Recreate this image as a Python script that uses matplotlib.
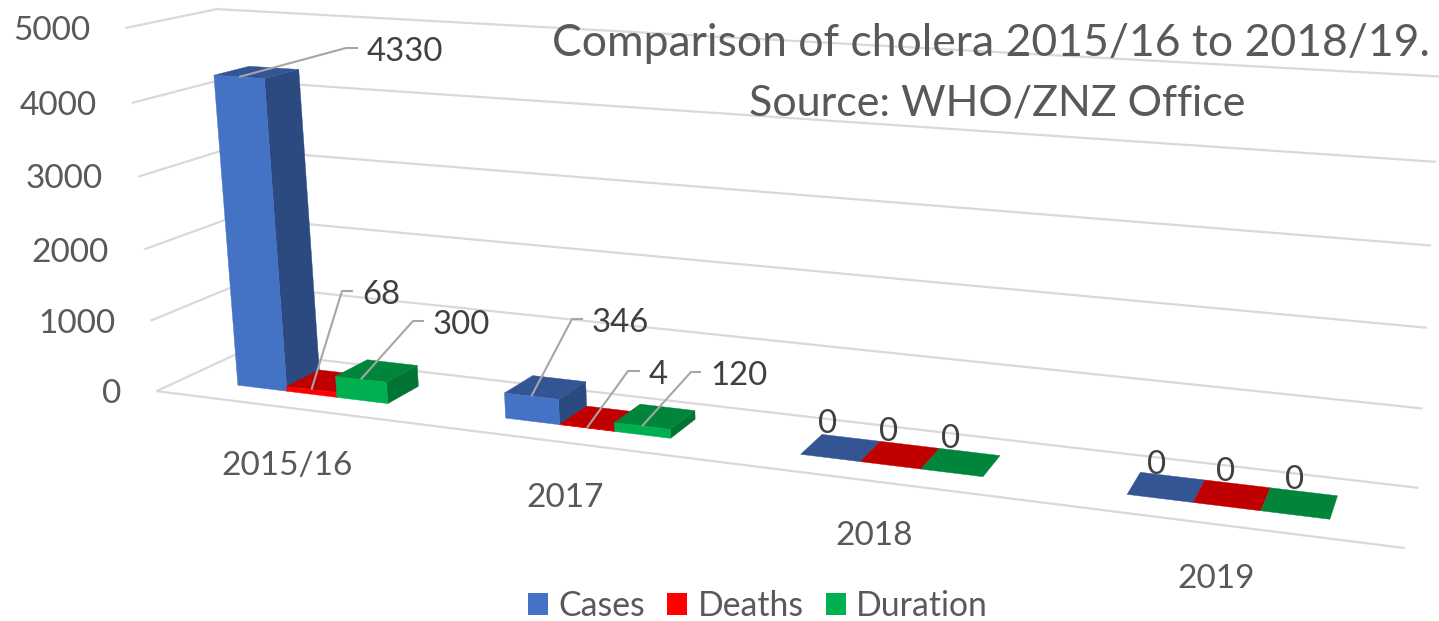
import numpy as np
import matplotlib
matplotlib.use("Agg")
import matplotlib.pyplot as plt
from matplotlib.patches import Patch

plt.rcParams['font.family'] = ['Lato', 'DejaVu Sans']

# ---- data ----
categories = ["2015/16", "2017", "2018", "2019"]
series_names = ["Cases", "Deaths", "Duration"]
cases = [4330, 346, 0, 0]
deaths = [68, 4, 0, 0]
duration = [300, 120, 0, 0]
value_ticks = [0, 1000, 2000, 3000, 4000, 5000]

# ---- styles ----
FRONT = ["#4472C4", "#FF0000", "#00B050"]
TOP = ["#335593", "#C00000", "#00853B"]
SIDE = ["#2A4A80", "#A00000", "#007433"]
GRID = "#D9D9D9"
LEADER = "#A6A6A6"
TXT = "#595959"
LBL = "#404040"

# ---- camera: the 3-D chart box (category, depth, value/5000) matched to the picture ----
box = [(0,0,0),(0,1,0),(4,0,0),(4,1,0),(0,0,1),(0,1,1),(4,1,1),(4,1,.2),(0,0,.2),(4,1,.4),(4,1,.6),(4,1,.8),(0,0,.8)]
pix = [(157,391),(243,351),(1405,548),(1419,488),(125,28),(217,9),(1441,77),(1425,409),(150,321),(1425,327),(1426,245),(1439,162),(132,103)]
rows, rhs = [], []
for (X, Y, Z), (u, v) in zip(box, pix):
    rows.append([X, Y, Z, 1, 0, 0, 0, 0, -u*X, -u*Y, -u*Z]); rhs.append(u)
    rows.append([0, 0, 0, 0, X, Y, Z, 1, -v*X, -v*Y, -v*Z]); rhs.append(v)
sol = np.linalg.lstsq(np.array(rows, float), np.array(rhs, float), rcond=None)[0]
P = np.append(sol, 1.0).reshape(3, 4)


def proj(cat, depth, value):
    h = P @ np.array([cat, depth, value / 5000.0, 1.0])
    return h[0] / h[2], h[1] / h[2]


fig = plt.figure(figsize=(14.39, 6.21), dpi=100)
ax = fig.add_axes([0, 0, 1, 1])
ax.set_xlim(0, 1439)
ax.set_ylim(621, 0)
ax.axis("off")


def line(pts, **kw):
    xs, ys = zip(*pts)
    ax.plot(xs, ys, solid_capstyle="butt", **kw)


# gridlines on the side and back walls, floor front edge
for v in value_ticks:
    line([proj(0, 0, v), proj(0, 1, v), proj(4, 1, v)], color=GRID, lw=1.6, zorder=1)
line([proj(0, 0, 0), proj(4, 0, 0)], color=GRID, lw=1.6, zorder=1)

# bars
N_S = len(series_names)
GAP = 2.25
BW = 1.0 / (N_S + GAP)
D0, D1 = 0.3, 0.7
values = [cases, deaths, duration]
anchors = {}
z = 2
for c in range(len(categories)):
    for s in range(N_S):
        val = values[s][c]
        x0 = c + (GAP / 2 + s) * BW
        x1 = x0 + BW
        if val > 0:
            ax.fill(*zip(proj(x1, D0, 0), proj(x1, D1, 0), proj(x1, D1, val), proj(x1, D0, val)),
                    color=SIDE[s], lw=0.3, zorder=z)
        ax.fill(*zip(proj(x0, D0, val), proj(x1, D0, val), proj(x1, D1, val), proj(x0, D1, val)),
                color=TOP[s], lw=0.3, zorder=z)
        if val > 0:
            ax.fill(*zip(proj(x0, D0, 0), proj(x1, D0, 0), proj(x1, D0, val), proj(x0, D0, val)),
                    color=FRONT[s], lw=0.3, zorder=z)
        anchors[(c, s)] = proj((x0 + x1) / 2, D0, val)
        z += 1

# value labels: (category, series) -> elbow of leader, end of leader
label_pos = {
    (0, 0): ((346, 48), (358, 48)),
    (0, 1): ((342, 291), (353, 291)),
    (0, 2): ((413, 321), (424, 321)),
    (1, 0): ((572, 319), (583, 319)),
    (1, 1): ((628, 371), (640, 371)),
    (1, 2): ((691, 372), (701, 372)),
}
for (c, s), (elbow, end) in label_pos.items():
    line([anchors[(c, s)], elbow, end], color=LEADER, lw=1.5, zorder=50)
    ax.text(end[0] + 9, end[1] + 4, str(values[s][c]), color=LBL, fontsize=23.7,
            ha="left", va="center", zorder=60)
zero_pos = {(2, 0): (828, 424), (2, 1): (889, 432), (2, 2): (951, 439),
            (3, 0): (1157, 465), (3, 1): (1226, 472), (3, 2): (1295, 480)}
for (c, s), (px, py) in zero_pos.items():
    ax.text(px, py, str(values[s][c]), color=LBL, fontsize=23.7, ha="center", va="center", zorder=60)

# value axis labels, each set along the slanted wall
tick_pos = [(121, 394), (115, 324), (109, 253), (103, 179), (97, 106), (90, 31)]
for v, (px, py) in zip(value_ticks, tick_pos):
    ax.text(px, py, str(v), color=TXT, fontsize=24, ha="right", va="center")

# category labels
cat_pos = [(287, 466), (565, 498), (874, 536), (1216, 579)]
for name, (px, py) in zip(categories, cat_pos):
    ax.text(px, py, name, color=TXT, fontsize=24, ha="center", va="center")

# title
ax.text(991, 43, "Comparison of cholera 2015/16 to 2018/19.", color=TXT, fontsize=32, ha="center", va="center")
ax.text(997, 103, "Source: WHO/ZNZ Office", color=TXT, fontsize=31, ha="center", va="center")

# legend
handles = [Patch(facecolor=col, edgecolor="none", label=n) for col, n in zip(FRONT, series_names)]
ax.legend(handles=handles, loc="center", bbox_to_anchor=(758 / 1439, 1 - 606 / 621), ncol=3,
          frameon=False, fontsize=24.3, labelcolor=TXT, handlelength=0.6, handleheight=0.6,
          handletextpad=0.3, columnspacing=0.65, borderpad=0, borderaxespad=0)

fig.savefig("out.png", dpi=100)
